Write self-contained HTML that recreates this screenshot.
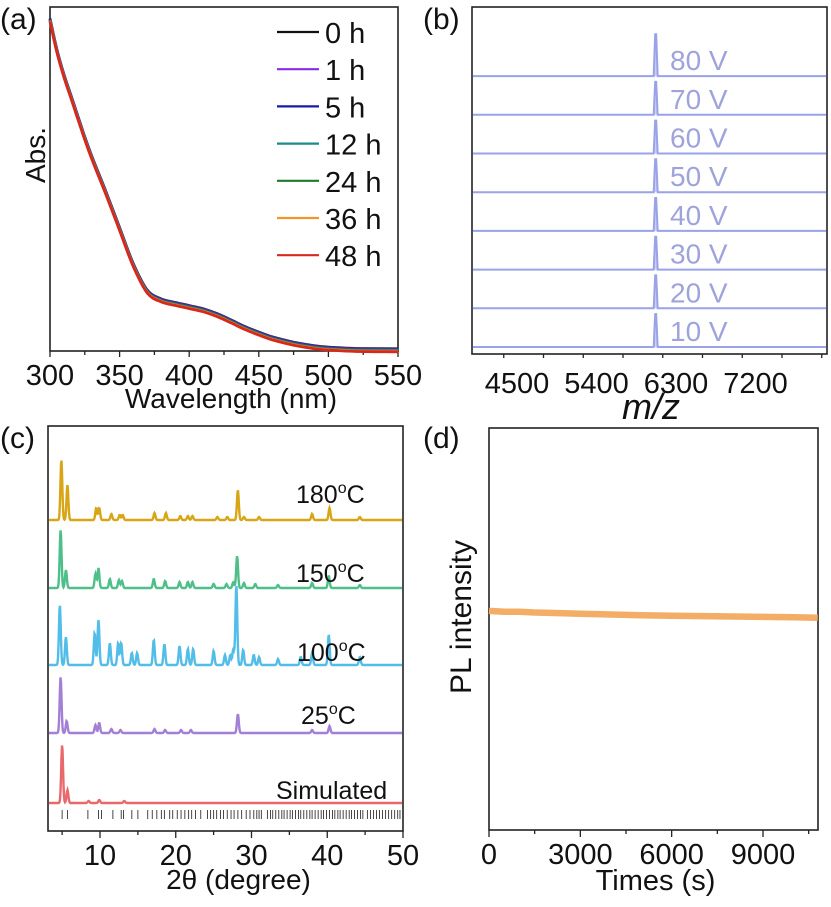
<!DOCTYPE html>
<html><head><meta charset="utf-8">
<style>
html,body{margin:0;padding:0;background:#fff;}
svg{display:block;font-family:"Liberation Sans",Arial,sans-serif;}
</style></head>
<body>
<svg id="fig" width="831" height="907" viewBox="0 0 831 907" xmlns="http://www.w3.org/2000/svg">
<g id="pa"></g>
<g id="pb"></g>
<g id="pc"></g>
<g id="pd"></g>
</svg>
<script>
// ---------- Panel A data ----------
const aWavelengths=[300,305,310,315,320,325,330,340,350,360,370,380,390,400,410,420,430,440,450,460,475,490,500,520,550];
const aAbs=[0.95,0.86,0.79,0.73,0.67,0.61,0.555,0.455,0.35,0.245,0.17,0.145,0.135,0.126,0.117,0.103,0.085,0.066,0.05,0.036,0.021,0.011,0.007,0.003,0.002];
const aLegendLabels=["0 h","1 h","5 h","12 h","24 h","36 h","48 h"];
const aLegendColors=["#111111","#8a2be2","#1a1aa8","#1a8a8a","#1f7a2a","#f0962a","#d8281e"];
const aXTicks=[300,350,400,450,500,550];
// ---------- Panel B data ----------
const bVoltages=["10 V","20 V","30 V","40 V","50 V","60 V","70 V","80 V"];
const bPeakMz=[6070,6070,6070,6070,6070,6070,6070,6070];
const bPeakHeight=[0.85,0.85,0.85,0.85,0.85,0.85,0.85,1.08];
const bXTicks=[4500,5400,6300,7200];
// ---------- Panel C data ----------
const cLabels=["Simulated","25°C","100°C","150°C","180°C"];
const cColors=["#e8696b","#a47fd6","#52bde8","#4fbf8a","#d8a516"];
const cPeaks180=[[4.9,60],[5.7,35],[9.5,12],[9.9,12],[11.5,6],[12.6,5],[13,5],[17.2,7],[18.7,7],[20.6,4],[21.6,4],[22.2,4],[25.5,3],[26.8,3],[28.2,30],[29,3],[31,3],[38,6],[40.3,12],[44.3,3]];
const cPeaks150=[[4.8,58],[5.5,18],[9.4,14],[9.8,20],[11.3,9],[12.5,8],[12.9,7],[17.1,9],[18.6,7],[20.5,6],[21.6,6],[22.2,6],[25,4],[26.7,4],[27.6,6],[28.1,32],[29,5],[30.5,4],[33.5,3],[38,5],[40.2,12],[44.3,3]];
const cPeaks100=[[4.7,60],[5.5,28],[9.3,32],[9.8,45],[11.3,22],[12.4,22],[12.8,22],[14.2,12],[14.9,12],[17.1,25],[18.5,21],[20.5,19],[21.6,16],[22.3,16],[25,14],[26.5,10],[27.2,10],[27.6,16],[28,80],[28.9,15],[30.3,10],[31,8],[33.5,6],[36.5,8],[38,12],[40.2,30],[44.3,8]];
const cPeaks25=[[4.8,56],[5.6,12],[9.4,8],[9.9,10],[11.5,4],[12.7,3],[17.2,4],[18.6,3],[20.7,3],[22,3],[28.2,19],[38,3],[40.3,7]];
const cPeaksSim=[[5,58],[5.7,13],[8.5,2],[9.9,3],[13.2,2]];
const cHkl=[5,5.7,8.4,9.8,10.2,11.7,12.8,13.1,14.2,15,16.3,16.9,17.5,18.1,18.5,19.2,19.6,20.2,20.7,21.2,21.7,22.1,22.6,23.3,24.2,24.6,25,25.4,25.9,26.3,26.8,27.3,27.7,28.2,28.7,29.3,29.8,30.3,30.7,31,31.3,32.1,32.5,32.8,33.2,33.6,34,34.3,34.7,35.1,35.4,35.8,36.2,36.5,36.9,37.3,37.7,38,38.4,38.8,39.2,39.5,39.9,40.3,40.7,41,41.4,41.7,42.1,42.5,42.9,43.2,43.6,44,44.4,44.7,45.3,45.7,46.1,46.5,46.9,47.3,47.7,48.1,48.5,48.9,49.3,49.6];
const cXTicks=[10,20,30,40,50];
// ---------- Panel D data ----------
const dTimes=[0,500,1000,1500,2000,3000,4000,5000,6000,7000,8000,9000,10000,10800];
const dIntensity=[0.545,0.543,0.543,0.541,0.540,0.538,0.536,0.534,0.533,0.532,0.531,0.530,0.529,0.528];
const dXTicks=[0,3000,6000,9000];

const NS="http://www.w3.org/2000/svg";
function mk(parent,tag,attrs,text){const e=document.createElementNS(NS,tag);for(const k in attrs)e.setAttribute(k,attrs[k]);if(text!==undefined)e.textContent=text;parent.appendChild(e);return e;}
function frame(g,l,t,r,b){
  const f=mk(g,'rect',{x:l,y:t,width:r-l,height:b-t,fill:'none',stroke:'#222','stroke-width':1.6});
  
  
}
function tickLabel(g,x,y,txt,name,size){
  const t=mk(g,'text',{x:x,y:y,'text-anchor':'middle','font-size':size||29,fill:'#111'},txt);
  
  
  return t;
}
function tick(g,x,y,len){
  const l=mk(g,'line',{x1:x,y1:y,x2:x,y2:y+len,stroke:'#222','stroke-width':1.3});
  
  
}
function smooth(pts){
  let d='M'+pts[0][0].toFixed(1)+','+pts[0][1].toFixed(1);
  for(let i=0;i<pts.length-1;i++){
    const p0=pts[Math.max(0,i-1)],p1=pts[i],p2=pts[i+1],p3=pts[Math.min(pts.length-1,i+2)];
    const c1=[p1[0]+(p2[0]-p0[0])/6,p1[1]+(p2[1]-p0[1])/6],c2=[p2[0]-(p3[0]-p1[0])/6,p2[1]-(p3[1]-p1[1])/6];
    d+=`C${c1[0].toFixed(1)},${c1[1].toFixed(1)} ${c2[0].toFixed(1)},${c2[1].toFixed(1)} ${p2[0].toFixed(1)},${p2[1].toFixed(1)}`;
  }
  return d;
}

// ===== Panel A =====
(function(){
  const g=document.getElementById('pa');
  const L=50,R=398,T=7,B=351;
  const xs=w=>L+(w-300)/250*(R-L);
  const ys=v=>B-v*(B-T-6)/0.97;
  frame(g,L,T,R,B);
  for(let w=300;w<=550;w+=25){tick(g,xs(w),B,w%50===0?6:4);}
  aXTicks.forEach(v=>tickLabel(g,xs(v),B+34,String(v),'x-tick-label-'+v));
  tickLabel(g,(L+R)/2+7,B+57,'Wavelength (nm)','x-axis-title',28);
  const yt=mk(g,'text',{x:0,y:0,'text-anchor':'middle','font-size':28,fill:'#111',transform:'translate(45,155) rotate(-90)'},'Abs.');
  
  
  const pl=mk(g,'text',{x:0,y:29,'font-size':30,fill:'#111'},'(a)');
  
  
  aLegendColors.forEach((c,i)=>{
    const pts=aWavelengths.map((w,j)=>[xs(w),ys(aAbs[j])+(i-3)*0.5]);
    const p=mk(g,'path',{d:smooth(pts),fill:'none',stroke:c,'stroke-width':2.8,'stroke-linejoin':'round'});
    
    
    const y=32+i*37.2;
    const ll=mk(g,'line',{x1:277,y1:y,x2:319,y2:y,stroke:c,'stroke-width':2.2});
    
    
    const lt=mk(g,'text',{x:325,y:y+11,'font-size':29,fill:'#111'},aLegendLabels[i]);
    
    
  });
})();

// ===== Panel B =====
(function(){
  const g=document.getElementById('pb');
  const L=472,R=827,T=7,B=347;
  const xs=m=>517+(m-4500)/900*79.5;
  frame(g,L,T,R,354);
  for(let m=3900;m<=8100;m+=450){const x=xs(m);if(x>L&&x<R)tick(g,x,354,m%900===0?7:4);}
  bXTicks.forEach(v=>tickLabel(g,xs(v),393,String(v),'x-tick-label-'+v));
  const xt=mk(g,'text',{x:651,y:419,'text-anchor':'middle','font-size':36,'font-style':'italic',fill:'#111'},'m/z');
  
  
  const pl=mk(g,'text',{x:423,y:29,'font-size':30,fill:'#111'},'(b)');
  
  
  const step=38.7;
  bVoltages.forEach((v,i)=>{
    const base=B-i*step;
    const px=xs(bPeakMz[i]);const h=bPeakHeight[i]*step;
    const d=`M${L+1},${base} L${px-2},${base} L${px-0.5},${base-h} L${px+0.5},${base-h} L${px+2},${base} L${R-1},${base}`;
    const p=mk(g,'path',{d:d,fill:'rgba(150,160,235,0.5)',stroke:'#9aa2e8','stroke-width':2});
    
    
    const t=mk(g,'text',{x:670,y:base-6,'font-size':28,fill:'#9fa3dc'},v);
    
    
  });
})();

// ===== Panel C =====
(function(){
  const g=document.getElementById('pc');
  const L=48,R=403,T=426,B=831;
  const xs=d=>100+(d-10)*(303/40);
  frame(g,L,T,R,B);
  for(let d=5;d<=50;d+=5){tick(g,xs(d),B,d%10===0?7:4);}
  cXTicks.forEach(v=>tickLabel(g,xs(v),B+34,String(v),'x-tick-label-'+v));
  tickLabel(g,(L+R)/2+13,B+58,'2θ (degree)','x-axis-title',28);
  const pl=mk(g,'text',{x:0,y:448,'font-size':30,fill:'#111'},'(c)');
  
  
  const series=[cPeaksSim,cPeaks25,cPeaks100,cPeaks150,cPeaks180];
  const bases=[803,733,665,588,520];
  const labelPos=[[276,799],[301,724],[297,661],[296,582],[296,503]];
  series.forEach((pk,i)=>{
    const base=bases[i];let d='';
    for(let x=L+1;x<=R-1;x+=0.5){
      const th=10+(x-100)/(303/40);
      let y=0;pk.forEach(([c,h])=>{const w=0.12;y+=h*Math.exp(-((th-c)*(th-c))/(2*w*w));});
      d+=(d?'L':'M')+x.toFixed(1)+','+(base-y).toFixed(1);
    }
    const p=mk(g,'path',{d:d,fill:'none',stroke:cColors[i],'stroke-width':2.4});
    
    
    const lbl=cLabels[i];
    const t=mk(g,'text',{x:labelPos[i][0],y:labelPos[i][1],'font-size':25,fill:'#111'});
    
    
    if(lbl.indexOf('°C')>0){
      t.textContent=lbl.replace('°C','');
      mk(t,'tspan',{'font-size':16,dy:-10},'o');
      mk(t,'tspan',{dy:10},'C');
    } else t.textContent=lbl;
  });
  cHkl.forEach(h=>{
    const l=mk(g,'line',{x1:xs(h),y1:810,x2:xs(h),y2:819,stroke:'#333','stroke-width':0.9});
    
    
  });
})();

// ===== Panel D =====
(function(){
  const g=document.getElementById('pd');
  const L=489,R=818,T=428,B=830;
  const xs=t=>L+t/9000*274;
  const ys=v=>B-v*(B-T);
  frame(g,L,T,R,B);
  for(let t=0;t<=10500;t+=1500){tick(g,xs(t),B,t%3000===0?7:4);}
  dXTicks.forEach(v=>tickLabel(g,xs(v),B+34,String(v),'x-tick-label-'+v));
  tickLabel(g,(L+R)/2+2,B+60,'Times (s)','x-axis-title',29);
  const yt=mk(g,'text',{x:0,y:0,'text-anchor':'middle','font-size':30,fill:'#111',transform:'translate(471,617) rotate(-90)'},'PL intensity');
  
  
  const pl=mk(g,'text',{x:423,y:448,'font-size':30,fill:'#111'},'(d)');
  
  
  let d='';dTimes.forEach((t,i)=>{d+=(i?'L':'M')+xs(t).toFixed(1)+','+ys(dIntensity[i]).toFixed(1);});
  const p=mk(g,'path',{d:d,fill:'none',stroke:'#f4ad66','stroke-width':6.5,'stroke-linejoin':'round'});
  
  
})();
</script>
</body></html>
